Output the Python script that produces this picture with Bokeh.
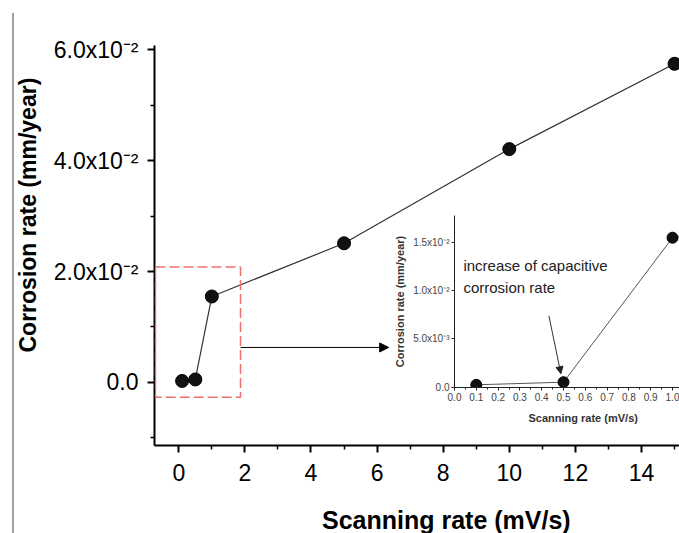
from bokeh.plotting import figure
from bokeh.models import (Range1d, FixedTicker, BoxAnnotation, Arrow, NormalHead,
                          Label, GridBox, Div, NumeralTickFormatter, Title)
from bokeh.embed import file_html
from bokeh.resources import INLINE

FONT = "Liberation Sans"

# ---------------- data ----------------
scan_rate = [0.1, 0.5, 1.0, 5.0, 10.0, 15.0]
corrosion_rate = [0.00025, 0.00052, 0.0155, 0.0251, 0.0421, 0.0575]

x_major_ticks = [0, 2, 4, 6, 8, 10, 12, 14]
x_minor_ticks = [1, 3, 5, 7, 9, 11, 13, 15]
y_major_ticks = [0.0, 0.02, 0.04, 0.06]
y_minor_ticks = [-0.01, 0.01, 0.03, 0.05]
y_tick_labels = ["0.0", "2.0x10\u207b\u00b2", "4.0x10\u207b\u00b2", "6.0x10\u207b\u00b2"]

inset_x_major = [0.0, 0.1, 0.2, 0.3, 0.4, 0.5, 0.6, 0.7, 0.8, 0.9, 1.0]
inset_x_minor = [0.05, 0.15, 0.25, 0.35, 0.45, 0.55, 0.65, 0.75, 0.85, 0.95]
inset_y_major = [0.0, 0.005, 0.01, 0.015]
inset_y_tick_labels = ["0.0", "5.0x10\u207b\u00b3", "1.0x10\u207b\u00b2", "1.5x10\u207b\u00b2"]

x_label = "Scanning rate (mV/s)"
y_label = "Corrosion rate (mm/year)"
note_line1 = "increase of capacitive"
note_line2 = "corrosion rate"

# annotation placements (data units of the respective plot)
zoom_box = dict(left=-0.705, right=1.867, bottom=-0.0027, top=0.0208)
main_arrow = dict(x_start=1.87, y_start=0.0063, x_end=6.35, y_end=0.0063)
inset_arrow = dict(x_start=0.433, y_start=0.0074, x_end=0.488, y_end=0.0014)
note_pos = dict(x=0.041, y1=0.01172, y2=0.00949)

# ---------------- main plot ----------------
p = figure(width=679, height=533, x_range=Range1d(-0.735, 15.15),
           y_range=Range1d(-0.0114, 0.0608), output_backend="svg",
           toolbar_location=None, min_border_left=154, min_border_right=0,
           min_border_top=45, min_border_bottom=88, margin=0)
p.grid.visible = False
p.outline_line_color = None

p.line(scan_rate, corrosion_rate, line_color="#333333", line_width=1.2)
p.scatter(scan_rate, corrosion_rate, size=13, fill_color="#111111", line_color="#000000")

for ax in (p.xaxis[0], p.yaxis[0]):
    ax.axis_line_width = 2
    ax.major_tick_line_width = 2
    ax.minor_tick_line_width = 1.5
    ax.major_tick_in = 0
    ax.major_tick_out = 7
    ax.minor_tick_in = 0
    ax.minor_tick_out = 4
    ax.major_label_text_font = FONT
    ax.major_label_text_font_size = "23px"
    ax.major_label_text_color = "#000000"

p.xaxis.ticker = FixedTicker(ticks=x_major_ticks, minor_ticks=x_minor_ticks)
p.yaxis.ticker = FixedTicker(ticks=y_major_ticks, minor_ticks=y_minor_ticks)
p.yaxis.major_label_overrides = dict(zip(y_major_ticks, y_tick_labels))
p.xaxis.major_label_standoff = 11
p.yaxis.major_label_standoff = 9

p.add_layout(Title(text=y_label, align="left", offset=93, standoff=20,
                   text_font=FONT, text_font_size="23px", text_font_style="bold",
                   text_color="#000000"), "left")

p.add_layout(BoxAnnotation(**zoom_box, fill_color=None, fill_alpha=0,
                           line_color="#f07070", line_alpha=1.0,
                           line_dash="10 4", line_width=1.5))
p.add_layout(Arrow(end=NormalHead(size=9, fill_color="black", line_color="black"),
                   line_color="black", line_width=1, **main_arrow))

# ---------------- inset ----------------
q = figure(width=294, height=225, x_range=Range1d(0.0, 1.032),
           y_range=Range1d(-0.00003, 0.0178), output_backend="svg",
           toolbar_location=None, min_border_left=69, min_border_right=0,
           min_border_top=10, min_border_bottom=43, margin=0)
q.grid.visible = False
q.outline_line_color = None
q.background_fill_alpha = 0
q.border_fill_alpha = 0

q.line(scan_rate, corrosion_rate, line_color="#555555", line_width=1)
q.scatter(scan_rate, corrosion_rate, size=11, fill_color="#111111", line_color="#000000")

for ax in (q.xaxis[0], q.yaxis[0]):
    ax.axis_line_width = 1
    ax.axis_line_color = "#222222"
    ax.major_tick_line_color = "#222222"
    ax.minor_tick_line_color = "#222222"
    ax.major_tick_in = 0
    ax.major_tick_out = 3
    ax.minor_tick_in = 0
    ax.minor_tick_out = 2
    ax.major_label_text_font = FONT
    ax.major_label_text_font_size = "10px"
    ax.major_label_text_color = "#444444"
    ax.major_label_standoff = 2
    ax.axis_label_text_font = FONT
    ax.axis_label_text_font_style = "bold"
    ax.axis_label_text_font_size = "11px"
    ax.axis_label_text_color = "#333333"

q.xaxis.ticker = FixedTicker(ticks=inset_x_major, minor_ticks=inset_x_minor)
q.xaxis.formatter = NumeralTickFormatter(format="0.0")
q.yaxis.ticker = FixedTicker(ticks=inset_y_major, minor_ticks=[])
q.yaxis.major_label_overrides = dict(zip(inset_y_major, inset_y_tick_labels))
q.yaxis.axis_label = y_label
q.yaxis.axis_label_standoff = 4

q.add_layout(Title(text=x_label, align="left", offset=74, standoff=12,
                   text_font=FONT, text_font_size="11px", text_font_style="bold",
                   text_color="#333333"), "below")
q.add_layout(Label(x=note_pos["x"], y=note_pos["y1"], text=note_line1,
                   text_font=FONT, text_font_size="15px", text_color="#222222"))
q.add_layout(Label(x=note_pos["x"], y=note_pos["y2"], text=note_line2,
                   text_font=FONT, text_font_size="15px", text_color="#222222"))
q.add_layout(Arrow(end=NormalHead(size=7, fill_color="#222222", line_color="#222222"),
                   line_color="#333333", line_width=1, **inset_arrow))

# main x-axis title as real text below the axis
xtitle = Div(text=x_label, width=357, height=26, margin=0,
             styles={"font-family": FONT, "font-size": "25px", "font-weight": "bold",
                     "line-height": "26px", "color": "#000000", "white-space": "nowrap"})

# thin grey frame line at the left of the picture
edge = Div(width=2, height=520, margin=0, styles={"background-color": "#a0a0a0"})

layout = GridBox(children=[(p, 0, 0, 5, 5), (edge, 1, 1, 4, 1), (q, 2, 4, 1, 1),
                           (xtitle, 4, 3, 1, 2)],
                 cols=["12px", "2px", "308px", "63px", "294px"],
                 rows=["13px", "192px", "225px", "77px", "26px"], spacing=0)

open("out.html", "w").write(file_html(layout, INLINE))
